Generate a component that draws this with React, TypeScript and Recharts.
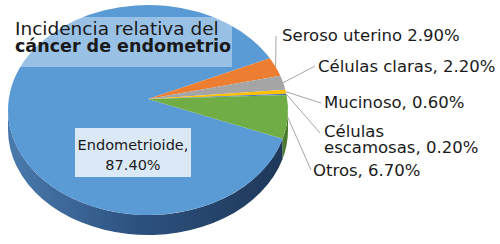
import React from "react";
import { PieChart, Pie } from "recharts";

// datos (orden original de la hoja de cálculo, sentido horario)
const categories = [
  "Endometrioide",
  "Seroso uterino",
  "Células claras",
  "Mucinoso",
  "Células escamosas",
  "Otros",
];
const shares = [87.4, 2.9, 2.2, 0.6, 0.2, 6.7];
const labelLines = [
  ["Endometrioide,", "87.40%"],
  ["Seroso uterino 2.90%"],
  ["Células claras, 2.20%"],
  ["Mucinoso, 0.60%"],
  ["Células", "escamosas, 0.20%"],
  ["Otros, 6.70%"],
];
const titleLines = ["Incidencia relativa del", "cáncer de endometrio"];

const colors = ["#5b9bd5", "#ed7d31", "#a5a5a5", "#ffc000", "#4472c4", "#70ad47"];
const wallColors = ["url(#wallBlue)", "#a3561f", "#6e6e6e", "#b38600", "#2c4f8c", "#4a7a2e"];

const data = categories.map((name, i) => ({ name, value: shares[i] }));

// geometría del pastel "3D"
const CX = 148;
const CY = 110;
const R = 140;
const K = 0.75; // aplastamiento vertical
const DEPTH = 20;
const APEX_UP = 11;

// posición de las etiquetas externas (texto x, línea base, extremo de la línea guía)
const labelLayout = [
  { x: 133, y: 150, lx: 0, ly: 0 },
  { x: 282, y: 41, lx: 276, ly: 36 },
  { x: 318, y: 72, lx: 315, ly: 66 },
  { x: 324, y: 108, lx: 321, ly: 103 },
  { x: 324, y: 137, lx: 320, ly: 133 },
  { x: 313, y: 176, lx: 311, ly: 170 },
];

const FONT = "DejaVu Sans";
const rad = Math.PI / 180;

const pt = (cx: number, cy: number, rx: number, ry: number, a: number) => [
  cx + rx * Math.cos(a * rad),
  cy - ry * Math.sin(a * rad),
];

const EllipseSlice = (props: any) => {
  const { cx, cy, outerRadius, startAngle, endAngle, index } = props;
  const rx = outerRadius;
  const ry = outerRadius * K;
  const a1 = Math.min(startAngle, endAngle);
  const a2 = Math.max(startAngle, endAngle);
  const p1 = pt(cx, cy, rx, ry, a1);
  const p2 = pt(cx, cy, rx, ry, a2);
  const large = a2 - a1 > 180 ? 1 : 0;

  // tramos visibles del lateral (parte frontal, sin < 0)
  const walls: string[] = [];
  for (let k = -2; k <= 1; k++) {
    const b1 = Math.max(a1, 180 + 360 * k);
    const b2 = Math.min(a2, 360 + 360 * k);
    if (b2 > b1) {
      const q1 = pt(cx, cy, rx, ry, b1);
      const q2 = pt(cx, cy, rx, ry, b2);
      walls.push(
        `M${q1[0]},${q1[1]} A${rx},${ry} 0 0 0 ${q2[0]},${q2[1]} L${q2[0]},${q2[1] + DEPTH} A${rx},${ry} 0 0 1 ${q1[0]},${q1[1] + DEPTH} Z`
      );
    }
  }

  return (
    <g>
      {walls.map((d, i) => (
        <path key={i} d={d} fill={wallColors[index]} stroke="none" />
      ))}
      <path
        d={`M${cx},${cy - APEX_UP} L${p1[0]},${p1[1]} A${rx},${ry} 0 ${large} 0 ${p2[0]},${p2[1]} Z`}
        fill={colors[index]}
        stroke="none"
      />
    </g>
  );
};

const renderLabel = (props: any) => {
  const { index, midAngle, cx, cy, outerRadius } = props;
  const lay = labelLayout[index];
  const lines = labelLines[index];
  if (index === 0) {
    return (
      <g key="lab0">
        <rect x={75} y={128} width={116} height={49} fill="#ffffff" fillOpacity={0.78} />
        {lines.map((t, i) => (
          <text
            key={i}
            x={lay.x}
            y={lay.y + i * 20}
            textAnchor="middle"
            fontFamily={FONT}
            fontSize={14.5}
            fill="#1a1a1a"
          >
            {t}
          </text>
        ))}
      </g>
    );
  }
  const e = pt(cx, cy, outerRadius, outerRadius * K, midAngle);
  return (
    <g key={"lab" + index}>
      <line x1={e[0]} y1={e[1]} x2={lay.lx} y2={lay.ly} stroke="#a6a6a6" strokeWidth={1} />
      {lines.map((t, i) => (
        <text
          key={i}
          x={lay.x}
          y={lay.y + i * 16}
          fontFamily={FONT}
          fontSize={16.5}
          fill="#1a1a1a"
        >
          {t}
        </text>
      ))}
    </g>
  );
};

export default function App() {
  return (
    <div style={{ position: "absolute", left: 0, top: 0, width: 500, height: 244, background: "#fff" }}>
      <svg width={0} height={0} style={{ position: "absolute" }}>
        <defs>
          <linearGradient id="wallBlue" gradientUnits="userSpaceOnUse" x1={CX - R} y1={0} x2={CX + R} y2={0}>
            <stop offset="0%" stopColor="#4a7aad" />
            <stop offset="45%" stopColor="#2d5280" />
            <stop offset="100%" stopColor="#1e3757" />
          </linearGradient>
        </defs>
      </svg>
      <PieChart width={500} height={244} margin={{ top: 0, right: 0, bottom: 0, left: 0 }}>
        <Pie
          data={data}
          dataKey="value"
          nameKey="name"
          cx={CX}
          cy={CY}
          outerRadius={R}
          startAngle={-15.9}
          endAngle={-375.9}
          stroke="none"
          shape={EllipseSlice}
          activeShape={EllipseSlice}
          inactiveShape={EllipseSlice}
          label={renderLabel}
          labelLine={false}
          isAnimationActive={false}
        />
      </PieChart>
      <svg
        width={500}
        height={244}
        style={{ position: "absolute", left: 0, top: 0, pointerEvents: "none" }}
      >
        <rect x={10} y={17} width={222} height={50} fill="#ffffff" fillOpacity={0.38} />
        <text x={15} y={35} fontFamily={FONT} fontSize={18.5} fill="#1a1a1a">
          {titleLines[0]}
        </text>
        <text x={15} y={52} fontFamily={FONT} fontSize={17.5} fontWeight="bold" fill="#1a1a1a">
          {titleLines[1]}
        </text>
      </svg>
    </div>
  );
}
